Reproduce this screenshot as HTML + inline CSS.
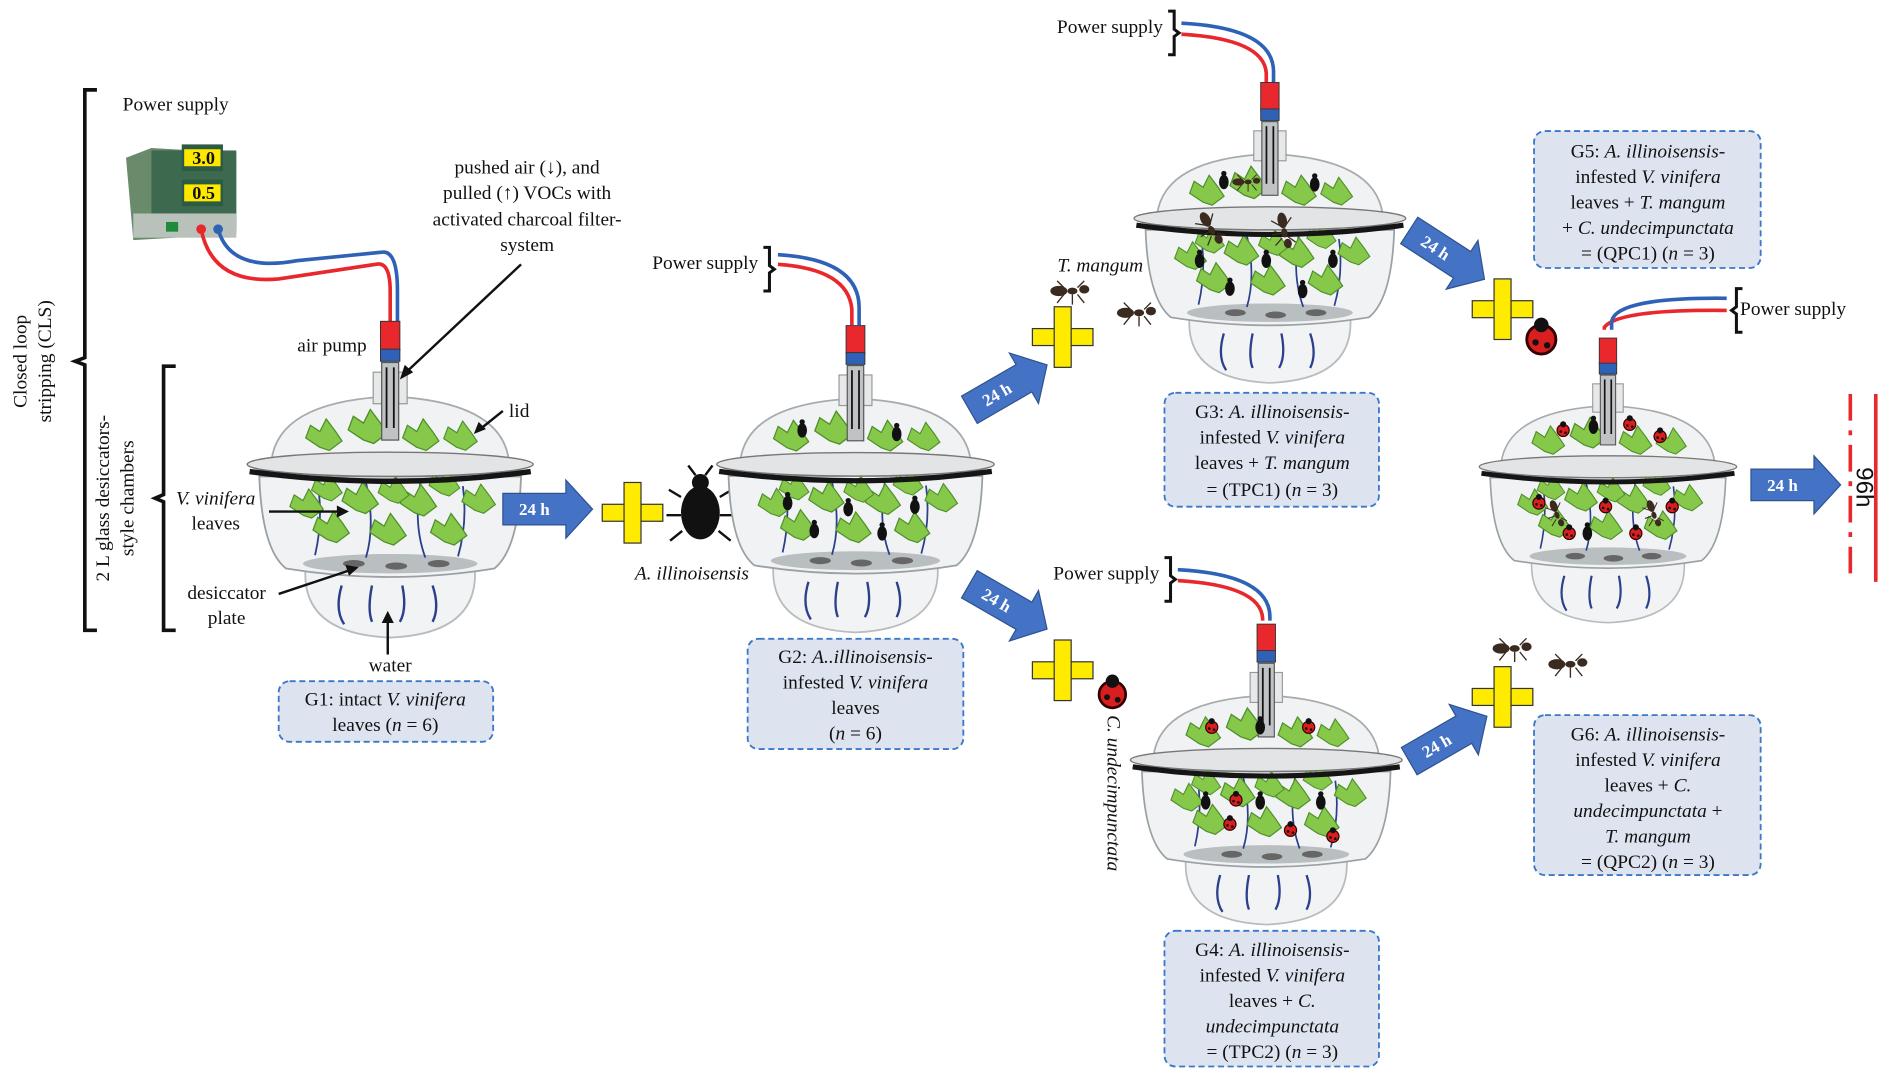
<!DOCTYPE html>
<html><head><meta charset="utf-8"><style>
html,body{margin:0;padding:0;background:#fff;}
svg{display:block;}
text{font-family:"Liberation Serif",serif;fill:#111;}
.i{font-style:italic;}
</style></head><body>
<svg width="1900" height="1074" viewBox="0 0 1568 886" xmlns="http://www.w3.org/2000/svg">
<defs>
<g id="leaf"><path d="M0,0 L-9,-6 L-6,-14 L0,-10 L4,-18 L10,-10 L14,-4 L6,2 Z" fill="#86c84a" stroke="#4f8f2a" stroke-width="0.8"/></g>
<g id="jar">
  <path d="M-70,88 Q-72,140 0,143 Q72,140 70,88 Z" fill="#f1f3f4" stroke="#b8bcbe" stroke-width="1.5"/>
  <path d="M-40,100 q-6,20 2,32 M-15,100 q-4,20 0,30 M10,100 q4,20 -2,30 M35,100 q6,18 0,30" stroke="#2b3f8c" stroke-width="2" fill="none"/>
  <path d="M-108,10 Q-106,70 -86,86 Q0,100 86,86 Q106,70 108,10 Z" fill="#f0f2f3" stroke="#9aa0a3" stroke-width="1.5"/>
  <ellipse cx="0" cy="82" rx="72" ry="8" fill="#b9bec1"/>
  <ellipse cx="-30" cy="82" rx="9" ry="3" fill="#666"/><ellipse cx="5" cy="84" rx="9" ry="3" fill="#666"/><ellipse cx="40" cy="82" rx="9" ry="3" fill="#666"/>
  <g stroke="#2b3f8c" stroke-width="1.5" fill="none"><path d="M-60,15 q5,30 -2,60 M-20,15 q8,35 0,62 M25,15 q-6,35 4,62 M60,18 q4,30 -4,58"/></g>
  <use href="#leaf" transform="translate(-72,42) scale(1.2)"/><use href="#leaf" transform="translate(-52,62) scale(1.3)"/><use href="#leaf" transform="translate(-28,38) scale(1.3)"/><use href="#leaf" transform="translate(-5,64) scale(1.3)"/><use href="#leaf" transform="translate(20,40) scale(1.3)"/><use href="#leaf" transform="translate(45,64) scale(1.3)"/><use href="#leaf" transform="translate(70,38) scale(1.2)"/><use href="#leaf" transform="translate(-55,28) scale(1.1)"/><use href="#leaf" transform="translate(42,24) scale(1.1)"/><use href="#leaf" transform="translate(0,30) scale(1.1)"/>
  <path d="M-98,-3 Q-92,-52 0,-56 Q92,-52 98,-3 Z" fill="#f0f2f3" stroke="#a6abae" stroke-width="1.5"/>
  <rect x="-14" y="-76" width="28" height="26" fill="#e6e8e9" stroke="#999"/>
  <use href="#leaf" transform="translate(-58,-14) scale(1.3)"/><use href="#leaf" transform="translate(-22,-20) scale(1.4)"/><use href="#leaf" transform="translate(22,-14) scale(1.3)"/><use href="#leaf" transform="translate(55,-14) scale(1.2)"/>
  <ellipse cx="0" cy="0" rx="118" ry="10" fill="#e2e4e6" stroke="#777" stroke-width="1.2"/>
  <path d="M-116,6 Q0,22 116,6" stroke="#151515" stroke-width="4.5" fill="none"/>
  <rect x="-7" y="-84" width="14" height="64" fill="#bfc3c5" stroke="#555" stroke-width="1"/>
  <line x1="-3" y1="-80" x2="-3" y2="-30" stroke="#111" stroke-width="1.5"/><line x1="3" y1="-80" x2="3" y2="-30" stroke="#111" stroke-width="1.5"/>
  <rect x="-8" y="-118" width="16" height="24" fill="#e8282c" stroke="#333" stroke-width="0.8"/>
  <rect x="-8" y="-95" width="16" height="10" fill="#2f62b6" stroke="#333" stroke-width="0.8"/>
</g>
<g id="bug"><ellipse cx="0" cy="0" rx="4" ry="6" fill="#111"/><circle cx="0" cy="-7" r="2.2" fill="#111"/></g>
<g id="lady"><circle cx="0" cy="0" r="5" fill="#d81e1e" stroke="#300" stroke-width="1"/><circle cx="0" cy="-5" r="2.5" fill="#111"/><circle cx="-2" cy="1" r="1.1" fill="#111"/><circle cx="2" cy="2" r="1.1" fill="#111"/></g>
<g id="ant"><ellipse cx="-8" cy="0" rx="5" ry="3" fill="#3a2a20"/><ellipse cx="0" cy="0" rx="3" ry="2" fill="#3a2a20"/><ellipse cx="7" cy="-1" rx="3" ry="2.5" fill="#3a2a20"/><path d="M-5,2 l-4,5 M0,2 l0,6 M3,2 l4,5 M-5,-2 l-4,-4 M3,-2 l4,-4" stroke="#3a2a20" stroke-width="0.8"/></g>
<g id="plus"><rect x="-25" y="-7" width="50" height="14" fill="#ffeb00" stroke="#333" stroke-width="1"/><rect x="-7" y="-25" width="14" height="50" fill="#ffeb00" stroke="#333" stroke-width="1"/><rect x="-6" y="-6" width="12" height="12" fill="#ffeb00"/></g>
<g id="arr"><path d="M0,-13 L52,-13 L52,-24 L74,0 L52,24 L52,13 L0,13 Z" fill="#4472c4" stroke="#2f528f" stroke-width="1"/><text x="26" y="5" font-size="14" font-weight="bold" text-anchor="middle" style="fill:#fff">24 h</text></g>
</defs>

<path d="M80,74 L70,74 L70,295 L62,298 L70,301 L70,520 L80,520" stroke="#111" stroke-width="3" fill="none"/>
<text transform="translate(22,298) rotate(-90)" font-size="16" text-anchor="middle">Closed loop</text>
<text transform="translate(42,298) rotate(-90)" font-size="16" text-anchor="middle">stripping (CLS)</text>
<path d="M145,302 L135,302 L135,408 L128,411 L135,414 L135,520 L145,520" stroke="#111" stroke-width="3" fill="none"/>
<text transform="translate(90,411) rotate(-90)" font-size="16" text-anchor="middle">2 L glass desiccators-</text>
<text transform="translate(110,411) rotate(-90)" font-size="16" text-anchor="middle">style chambers</text>

<text x="145" y="91" font-size="16" text-anchor="middle">Power supply</text>
<path d="M104,130 L125,122 L195,126 L195,193 L110,198 Z" fill="#6a8a6c"/>
<rect x="125" y="124" width="70" height="66" fill="#3d6a4f"/>
<rect x="150" y="119" width="34" height="22" fill="#2d5a42"/><rect x="152" y="123" width="30" height="14" fill="#ffe800"/><text x="168" y="135" font-size="15" font-weight="bold" text-anchor="middle">3.0</text>
<rect x="150" y="148" width="34" height="22" fill="#2d5a42"/><rect x="152" y="152" width="30" height="14" fill="#ffe800"/><text x="168" y="164" font-size="15" font-weight="bold" text-anchor="middle">0.5</text>
<rect x="110" y="176" width="85" height="20" fill="#b9c1bb"/><rect x="137" y="183" width="10" height="8" fill="#1e8a3a"/>
<circle cx="166" cy="189" r="4" fill="#e8282c"/><circle cx="180" cy="189" r="4" fill="#2f62b6"/>

<path d="M166,189 Q175,235 230,230 L310,218 Q322,215 322,240 L322,265" stroke="#e8282c" stroke-width="3" fill="none"/>
<path d="M180,189 Q190,225 245,215 L315,208 Q328,206 328,240 L328,265" stroke="#2f62b6" stroke-width="3" fill="none"/>

<use href="#jar" transform="translate(322,383)"/>
<text x="274" y="290" font-size="16" text-anchor="middle">air pump</text>
<text x="435" y="143" font-size="16" text-anchor="middle">pushed air (↓), and</text>
<text x="435" y="164" font-size="16" text-anchor="middle">pulled (↑) VOCs with</text>
<text x="435" y="186" font-size="16" text-anchor="middle">activated charcoal filter-</text>
<text x="435" y="207" font-size="16" text-anchor="middle">system</text>
<line x1="430" y1="218" x2="332" y2="310" stroke="#111" stroke-width="2"/><path d="M330,313 l4,-12 l7,6 z" fill="#111"/>
<text x="420" y="344" font-size="16">lid</text>
<line x1="415" y1="339" x2="395" y2="355" stroke="#111" stroke-width="2"/><path d="M391,358 l4,-10 l6,6 z" fill="#111"/>
<text x="178" y="416" font-size="16" text-anchor="middle" class="i">V. vinifera</text>
<text x="178" y="437" font-size="16" text-anchor="middle">leaves</text>
<line x1="222" y1="422" x2="280" y2="422" stroke="#111" stroke-width="2"/><path d="M288,422 l-10,-5 l0,10 z" fill="#111"/>
<text x="187" y="494" font-size="16" text-anchor="middle">desiccator</text>
<text x="187" y="515" font-size="16" text-anchor="middle">plate</text>
<line x1="230" y1="490" x2="290" y2="470" stroke="#111" stroke-width="2"/><path d="M296,468 l-11,-2 l3,9 z" fill="#111"/>
<text x="322" y="554" font-size="16" text-anchor="middle">water</text>
<line x1="320" y1="540" x2="320" y2="510" stroke="#111" stroke-width="2"/><path d="M320,504 l-5,10 l10,0 z" fill="#111"/>
<rect x="230" y="562" width="177" height="50" rx="9" fill="#dde4f0" stroke="#3b78c8" stroke-width="1.5" stroke-dasharray="5,3"/>
<text x="318" y="582" font-size="16" text-anchor="middle">G1: intact <tspan class="i">V. vinifera</tspan></text>
<text x="318" y="603" font-size="16" text-anchor="middle">leaves (<tspan class="i">n</tspan> = 6)</text>

<use href="#arr" transform="translate(415,420)"/>
<use href="#plus" transform="translate(522,423)"/>
<ellipse cx="578" cy="423" rx="16" ry="22" fill="#111"/><circle cx="578" cy="398" r="7" fill="#111"/>
<path d="M562,410 l-10,-6 M562,425 l-12,0 M563,438 l-10,8 M594,410 l10,-6 M594,425 l12,0 M593,438 l10,8 M574,392 l-6,-8 M582,392 l6,-8" stroke="#111" stroke-width="2"/>
<text x="571" y="478" font-size="16" text-anchor="middle" class="i">A. illinoisensis</text>

<text x="582" y="222" font-size="16" text-anchor="middle">Power supply</text>
<path d="M630,204 l5,0 l0,15 l4,3 l-4,3 l0,15 l-5,0" stroke="#111" stroke-width="2.5" fill="none"/>
<path d="M642,218 Q700,222 703,255 L703,268" stroke="#e8282c" stroke-width="3" fill="none"/>
<path d="M642,210 Q710,214 709,255 L709,268" stroke="#2f62b6" stroke-width="3" fill="none"/>
<use href="#jar" transform="translate(706,383) scale(0.97)"/>
<g><use href="#bug" transform="translate(650,415)"/><use href="#bug" transform="translate(672,438)"/><use href="#bug" transform="translate(700,420)"/><use href="#bug" transform="translate(728,440)"/><use href="#bug" transform="translate(755,418)"/><use href="#bug" transform="translate(662,355)"/><use href="#bug" transform="translate(740,358)"/></g>
<rect x="617" y="527" width="178" height="91" rx="9" fill="#dde4f0" stroke="#3b78c8" stroke-width="1.5" stroke-dasharray="5,3"/>
<text x="706" y="547" font-size="16" text-anchor="middle">G2: <tspan class="i">A..illinoisensis</tspan>-</text>
<text x="706" y="568" font-size="16" text-anchor="middle">infested <tspan class="i">V. vinifera</tspan></text>
<text x="706" y="589" font-size="16" text-anchor="middle">leaves</text>
<text x="706" y="610" font-size="16" text-anchor="middle">(<tspan class="i">n</tspan> = 6)</text>

<use href="#arr" transform="translate(800,338) rotate(-30)"/>
<use href="#arr" transform="translate(800,482) rotate(30)"/>
<use href="#plus" transform="translate(877,278)"/>
<use href="#plus" transform="translate(877,553)"/>
<text x="908" y="224" font-size="16" class="i" text-anchor="middle">T. mangum</text>
<use href="#ant" transform="translate(885,240) scale(1.4)"/><use href="#ant" transform="translate(940,258) scale(1.4)"/>
<use href="#lady" transform="translate(918,573) scale(2.2)"/>
<text transform="translate(914,590) rotate(90)" font-size="16" class="i">C. undecimpunctata</text>

<text x="916" y="27" font-size="16" text-anchor="middle">Power supply</text>
<path d="M964,9 l5,0 l0,15 l4,3 l-4,3 l0,15 l-5,0" stroke="#111" stroke-width="2.5" fill="none"/>
<path d="M975,28 Q1043,32 1045,60 L1045,70" stroke="#e8282c" stroke-width="3" fill="none"/>
<path d="M975,19 Q1052,23 1051,60 L1051,70" stroke="#2f62b6" stroke-width="3" fill="none"/>
<use href="#jar" transform="translate(1048,180) scale(0.95)"/>
<g><use href="#bug" transform="translate(990,215)"/><use href="#bug" transform="translate(1015,238)"/><use href="#bug" transform="translate(1045,215)"/><use href="#bug" transform="translate(1075,240)"/><use href="#bug" transform="translate(1100,215)"/><use href="#ant" transform="translate(1000,190) rotate(60) scale(1.3)"/><use href="#ant" transform="translate(1060,192) rotate(80) scale(1.3)"/><use href="#ant" transform="translate(1030,150)"/><use href="#bug" transform="translate(1010,150)"/><use href="#bug" transform="translate(1085,152)"/></g>
<rect x="961" y="324" width="177" height="94" rx="9" fill="#dde4f0" stroke="#3b78c8" stroke-width="1.5" stroke-dasharray="5,3"/>
<text x="1050" y="345" font-size="16" text-anchor="middle">G3: <tspan class="i">A. illinoisensis</tspan>-</text>
<text x="1050" y="366" font-size="16" text-anchor="middle">infested <tspan class="i">V. vinifera</tspan></text>
<text x="1050" y="387" font-size="16" text-anchor="middle">leaves + <tspan class="i">T. mangum</tspan></text>
<text x="1050" y="409" font-size="16" text-anchor="middle">= (TPC1) (<tspan class="i">n</tspan> = 3)</text>

<text x="913" y="478" font-size="16" text-anchor="middle">Power supply</text>
<path d="M961,460 l5,0 l0,15 l4,3 l-4,3 l0,15 l-5,0" stroke="#111" stroke-width="2.5" fill="none"/>
<path d="M972,479 Q1040,483 1042,510 L1042,512" stroke="#e8282c" stroke-width="3" fill="none"/>
<path d="M972,470 Q1049,474 1048,510 L1048,512" stroke="#2f62b6" stroke-width="3" fill="none"/>
<use href="#jar" transform="translate(1045,627) scale(0.95)"/>
<g><use href="#bug" transform="translate(995,662)"/><use href="#lady" transform="translate(1015,680)"/><use href="#bug" transform="translate(1040,662)"/><use href="#lady" transform="translate(1065,685)"/><use href="#bug" transform="translate(1090,662)"/><use href="#lady" transform="translate(1000,600)"/><use href="#lady" transform="translate(1080,600)"/><use href="#bug" transform="translate(1040,600)"/><use href="#lady" transform="translate(1020,660)"/><use href="#lady" transform="translate(1100,690)"/></g>
<rect x="961" y="768" width="177" height="112" rx="9" fill="#dde4f0" stroke="#3b78c8" stroke-width="1.5" stroke-dasharray="5,3"/>
<text x="1050" y="789" font-size="16" text-anchor="middle">G4: <tspan class="i">A. illinoisensis</tspan>-</text>
<text x="1050" y="810" font-size="16" text-anchor="middle">infested <tspan class="i">V. vinifera</tspan></text>
<text x="1050" y="831" font-size="16" text-anchor="middle">leaves + <tspan class="i">C.</tspan></text>
<text x="1050" y="852" font-size="16" text-anchor="middle" class="i">undecimpunctata</text>
<text x="1050" y="873" font-size="16" text-anchor="middle">= (TPC2) (<tspan class="i">n</tspan> = 3)</text>

<use href="#arr" transform="translate(1163,190) rotate(33)"/>
<use href="#arr" transform="translate(1163,628) rotate(-30)"/>
<use href="#plus" transform="translate(1240,255)"/>
<use href="#plus" transform="translate(1240,575)"/>
<use href="#lady" transform="translate(1272,280) scale(2.4)"/>
<use href="#ant" transform="translate(1250,535) scale(1.4)"/><use href="#ant" transform="translate(1296,548) scale(1.4)"/>

<rect x="1266" y="108" width="187" height="113" rx="9" fill="#dde4f0" stroke="#3b78c8" stroke-width="1.5" stroke-dasharray="5,3"/>
<text x="1360" y="130" font-size="16" text-anchor="middle">G5: <tspan class="i">A. illinoisensis</tspan>-</text>
<text x="1360" y="151" font-size="16" text-anchor="middle">infested <tspan class="i">V. vinifera</tspan></text>
<text x="1360" y="172" font-size="16" text-anchor="middle">leaves + <tspan class="i">T. mangum</tspan></text>
<text x="1360" y="193" font-size="16" text-anchor="middle">+ <tspan class="i">C. undecimpunctata</tspan></text>
<text x="1360" y="214" font-size="16" text-anchor="middle">= (QPC1) (<tspan class="i">n</tspan> = 3)</text>

<rect x="1266" y="590" width="187" height="132" rx="9" fill="#dde4f0" stroke="#3b78c8" stroke-width="1.5" stroke-dasharray="5,3"/>
<text x="1360" y="611" font-size="16" text-anchor="middle">G6: <tspan class="i">A. illinoisensis</tspan>-</text>
<text x="1360" y="632" font-size="16" text-anchor="middle">infested <tspan class="i">V. vinifera</tspan></text>
<text x="1360" y="653" font-size="16" text-anchor="middle">leaves + <tspan class="i">C.</tspan></text>
<text x="1360" y="674" font-size="16" text-anchor="middle"><tspan class="i">undecimpunctata</tspan> +</text>
<text x="1360" y="695" font-size="16" text-anchor="middle" class="i">T. mangum</text>
<text x="1360" y="716" font-size="16" text-anchor="middle">= (QPC2) (<tspan class="i">n</tspan> = 3)</text>

<path d="M1425,256 Q1335,255 1324,270 L1324,272" stroke="#e8282c" stroke-width="3" fill="none"/>
<path d="M1425,246 Q1334,245 1330,265 L1330,272" stroke="#2f62b6" stroke-width="3" fill="none"/>
<path d="M1438,238 l-5,0 l0,15 l-4,3 l4,3 l0,15 l5,0" stroke="#111" stroke-width="2.5" fill="none"/>
<text x="1436" y="260" font-size="16">Power supply</text>
<use href="#jar" transform="translate(1327,385) scale(0.9)"/>
<g><use href="#lady" transform="translate(1270,415)"/><use href="#lady" transform="translate(1295,440)"/><use href="#lady" transform="translate(1325,418)"/><use href="#lady" transform="translate(1350,440)"/><use href="#lady" transform="translate(1380,418)"/><use href="#bug" transform="translate(1310,440)"/><use href="#ant" transform="translate(1285,425) rotate(70)"/><use href="#ant" transform="translate(1365,425) rotate(70)"/><use href="#lady" transform="translate(1290,355)"/><use href="#lady" transform="translate(1345,350)"/><use href="#lady" transform="translate(1370,360)"/><use href="#bug" transform="translate(1315,352)"/></g>

<use href="#arr" transform="translate(1445,400)"/>
<line x1="1527" y1="325" x2="1527" y2="480" stroke="#e8282c" stroke-width="3" stroke-dasharray="22,8,4,8"/>
<line x1="1548" y1="325" x2="1548" y2="480" stroke="#e8282c" stroke-width="3"/>
<text transform="translate(1532,402) rotate(90)" font-size="20" style="font-family:'Liberation Sans',sans-serif" text-anchor="middle">96h</text>
</svg>
</body></html>
